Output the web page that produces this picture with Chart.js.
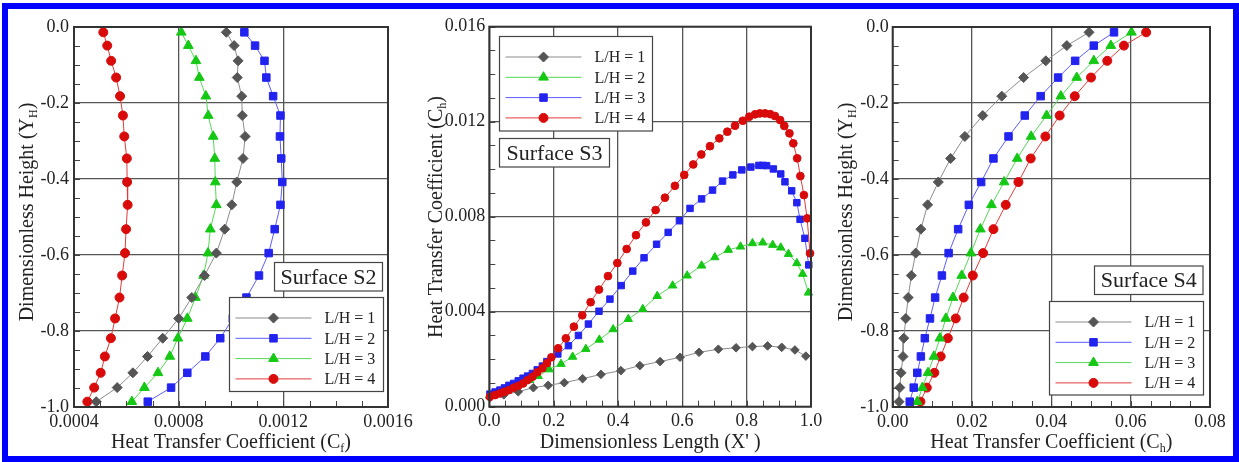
<!DOCTYPE html>
<html>
<head>
<meta charset="utf-8">
<title>Heat transfer coefficient on surfaces S2, S3, S4</title>
<script src="https://cdn.jsdelivr.net/npm/chart.js@4"></script>
<style>
  html, body { margin: 0; padding: 0; background: #fff; }
  #wrap { position: relative; width: 1239px; height: 462px; overflow: hidden; background: #fff; }
  #frame { position: absolute; left: 2px; top: 3px; width: 1237px; height: 459px; box-sizing: border-box; border: 6px solid #0000ff; }
  canvas { position: absolute; top: 0; }
</style>
</head>
<body>
<div id="wrap">
  <div id="frame"></div>
  <canvas id="s2" width="420" height="462" style="left:0px"></canvas>
  <canvas id="s3" width="410" height="462" style="left:420px"></canvas>
  <canvas id="s4" width="409" height="462" style="left:830px"></canvas>
</div>
<script>
// ---- data ----
const lhLabels = ['L/H = 1', 'L/H = 2', 'L/H = 3', 'L/H = 4'];

// Surface S2 and S4 share the same height stations
const heightY = [-0.014, -0.049, -0.089, -0.133, -0.182, -0.233, -0.288, -0.346, -0.408, -0.468,
                 -0.532, -0.595, -0.654, -0.712, -0.767, -0.819, -0.867, -0.910, -0.949, -0.986];

// Surface S2, Cf
const s2CfLH1 = [0.000982, 0.001012, 0.001027, 0.001024, 0.001041, 0.001043, 0.001054, 0.001046, 0.001022, 0.001003,
                 0.000976, 0.000944, 0.000899, 0.000850, 0.000800, 0.000739, 0.000681, 0.000625, 0.000565, 0.000485];
const s2CfLH2 = [0.001051, 0.001092, 0.001128, 0.001135, 0.001161, 0.001189, 0.001187, 0.001192, 0.001196, 0.001189,
                 0.001167, 0.001144, 0.001107, 0.001059, 0.001007, 0.000959, 0.000902, 0.000833, 0.000771, 0.000682];
const s2CfLH3 = [0.000810, 0.000837, 0.000866, 0.000879, 0.000904, 0.000913, 0.000932, 0.000938, 0.000940, 0.000944,
                 0.000921, 0.000912, 0.000895, 0.000864, 0.000833, 0.000797, 0.000766, 0.000721, 0.000669, 0.000621];
const s2CfLH4 = [0.000512, 0.000527, 0.000542, 0.000561, 0.000576, 0.000587, 0.000592, 0.000602, 0.000603, 0.000605,
                 0.000599, 0.000595, 0.000584, 0.000574, 0.000557, 0.000541, 0.000518, 0.000502, 0.000477, 0.000451];

// Surface S3, Ch against X'
const s3XLH1  = [0.002, 0.045, 0.090, 0.137, 0.183, 0.233, 0.290, 0.347, 0.409, 0.468,
                 0.531, 0.593, 0.652, 0.712, 0.767, 0.818, 0.865, 0.909, 0.950, 0.984];
const s3ChLH1 = [0.00038, 0.0005, 0.00063, 0.0008, 0.0009, 0.00101, 0.00118, 0.00136, 0.00152, 0.00173,
                 0.0019, 0.00208, 0.00229, 0.00242, 0.00248, 0.00253, 0.00256, 0.0025, 0.00239, 0.00213];

const s3XLH2  = [0.002, 0.025, 0.05, 0.075, 0.1, 0.125, 0.152, 0.186, 0.223, 0.259,
                 0.300, 0.342, 0.385, 0.432, 0.477, 0.522, 0.570, 0.615, 0.660, 0.701,
                 0.743, 0.781, 0.818, 0.850, 0.881, 0.906, 0.930, 0.956, 0.974, 0.992];
const s3ChLH2 = [0.00045, 0.00058, 0.0007, 0.00082, 0.00096, 0.00112, 0.00129, 0.00157, 0.0018, 0.0021,
                 0.00243, 0.00282, 0.00326, 0.00369, 0.00411, 0.00466, 0.0051, 0.00552, 0.00594, 0.00629,
                 0.0066, 0.00674, 0.00688, 0.00691, 0.00681, 0.0067, 0.00643, 0.00604, 0.00559, 0.0048];

const s3XLH3  = [0.002, 0.018, 0.033, 0.047, 0.061, 0.076, 0.090, 0.105, 0.119, 0.134,
                 0.149, 0.165, 0.179, 0.213, 0.246, 0.277, 0.308, 0.341, 0.375, 0.410,
                 0.446, 0.481, 0.520, 0.556, 0.591, 0.624, 0.660, 0.694, 0.725, 0.757,
                 0.785, 0.813, 0.838, 0.850, 0.862, 0.883, 0.906, 0.919, 0.940, 0.956,
                 0.966, 0.981, 0.993];
const s3ChLH3 = [0.00053, 0.00062, 0.0007, 0.00079, 0.0009, 0.00098, 0.00109, 0.0012, 0.00129, 0.0014,
                 0.00155, 0.00171, 0.0019, 0.00222, 0.00257, 0.003, 0.00348, 0.00402, 0.00453, 0.0051,
                 0.00571, 0.00627, 0.00684, 0.00734, 0.00783, 0.00835, 0.00875, 0.00912, 0.0095, 0.00976,
                 0.00997, 0.01009, 0.01016, 0.01016, 0.01015, 0.01001, 0.0098, 0.00947, 0.00909, 0.00859,
                 0.00789, 0.00709, 0.00597];

const s3XLH4  = [0.002, 0.018, 0.033, 0.047, 0.061, 0.076, 0.090, 0.105, 0.119, 0.134,
                 0.149, 0.165, 0.179, 0.193, 0.214, 0.238, 0.263, 0.289, 0.315, 0.341,
                 0.369, 0.398, 0.427, 0.456, 0.487, 0.517, 0.546, 0.577, 0.606, 0.634,
                 0.659, 0.686, 0.715, 0.740, 0.764, 0.788, 0.808, 0.826, 0.841, 0.857,
                 0.873, 0.888, 0.904, 0.917, 0.933, 0.945, 0.957, 0.967, 0.978, 0.988,
                 0.997];
const s3ChLH4 = [0.00042, 0.00049, 0.00056, 0.00063, 0.0007, 0.0008, 0.00088, 0.00098, 0.00112, 0.00126,
                 0.00145, 0.00162, 0.00183, 0.00208, 0.00246, 0.00288, 0.00337, 0.00385, 0.0044, 0.00493,
                 0.0055, 0.00605, 0.00664, 0.00722, 0.00776, 0.00828, 0.0088, 0.0093, 0.00976, 0.0102,
                 0.01062, 0.01097, 0.0113, 0.01158, 0.01183, 0.01204, 0.01221, 0.01231, 0.01235, 0.01235,
                 0.01232, 0.01224, 0.01207, 0.01182, 0.01151, 0.01109, 0.01046, 0.00971, 0.00891, 0.00793,
                 0.00646];

// Surface S4, Ch
const s4ChLH1 = [0.0495, 0.0439, 0.0386, 0.0330, 0.0275, 0.0227, 0.0182, 0.0146, 0.0115, 0.0088,
                 0.0071, 0.0058, 0.0047, 0.0039, 0.0033, 0.0028, 0.0026, 0.0021, 0.0018, 0.0016];
const s4ChLH2 = [0.0558, 0.0507, 0.0460, 0.0417, 0.0373, 0.0333, 0.0292, 0.0254, 0.0223, 0.0192,
                 0.0165, 0.0141, 0.0124, 0.0107, 0.0094, 0.0081, 0.0071, 0.0062, 0.0053, 0.0043];
const s4ChLH3 = [0.0602, 0.0550, 0.0507, 0.0464, 0.0424, 0.0388, 0.0349, 0.0314, 0.0281, 0.0249,
                 0.0221, 0.0197, 0.0174, 0.0152, 0.0134, 0.0119, 0.0104, 0.0089, 0.0075, 0.0062];
const s4ChLH4 = [0.0639, 0.0583, 0.0541, 0.0500, 0.0459, 0.0421, 0.0385, 0.0348, 0.0317, 0.0285,
                 0.0254, 0.0228, 0.0202, 0.0179, 0.0159, 0.0139, 0.0121, 0.0105, 0.0086, 0.0070];

// tick labels
const heightTicks = [-1.0, -0.8, -0.6, -0.4, -0.2, 0.0];
const s2CfTicks = [0.0004, 0.0008, 0.0012, 0.0016];
const s3XTicks = [0.0, 0.2, 0.4, 0.6, 0.8, 1.0];
const s3ChTicks = [0.000, 0.004, 0.008, 0.012, 0.016];
const s4ChTicks = [0.00, 0.02, 0.04, 0.06, 0.08];

// ---- styling ----
const FONT = '"Liberation Serif", "Times New Roman", Times, serif';
Chart.defaults.font.family = FONT;
Chart.defaults.color = '#222';

const STYLE = {
  gray:  { point: 'rectRot',  fill: '#555555', line: '#8c8c8c', r: 5.0 },
  blue:  { point: 'rect',     fill: '#2323f0', line: '#5c5cff', r: 5.3 },
  green: { point: 'triangle', fill: '#14c814', line: '#55d855', r: 5.6 },
  red:   { point: 'circle',   fill: '#d80a0a', line: '#e23b3b', r: 4.5 }
};

function pts(xs, ys) { return xs.map((x, i) => ({ x: x, y: ys[i] })); }

function series(label, data, st, scale, order) {
  return {
    label: label, data: data, showLine: true, order: order,
    borderColor: st.line, borderWidth: 1,
    pointStyle: st.point, pointRadius: st.r * scale,
    pointBackgroundColor: st.fill, pointBorderColor: st.fill, pointBorderWidth: 1,
    clip: false, _st: st
  };
}

// draw a string made of [normal, sub, normal, ...] pieces centered on (cx, cy)
function drawParts(ctx, parts, cx, cy, size, rotate) {
  const big = size + 'px ' + FONT;
  const small = Math.round(size * 0.62) + 'px ' + FONT;
  const widths = parts.map((p, i) => { ctx.font = i % 2 ? small : big; return ctx.measureText(p).width; });
  const total = widths.reduce((a, b) => a + b, 0);
  ctx.save();
  ctx.translate(cx, cy);
  if (rotate) ctx.rotate(-Math.PI / 2);
  ctx.fillStyle = '#222';
  ctx.textBaseline = 'alphabetic';
  ctx.textAlign = 'left';
  let x = -total / 2;
  parts.forEach((p, i) => {
    ctx.font = i % 2 ? small : big;
    ctx.fillText(p, x, size * 0.34 + (i % 2 ? size * 0.2 : 0));
    x += widths[i];
  });
  ctx.restore();
}

function decor(spec) {
  return {
    id: 'decor',
    afterDraw(chart) {
      const ctx = chart.ctx, a = chart.chartArea;
      const xs = chart.scales.x, ys = chart.scales.y;
      ctx.save();
      // minor ticks on left and bottom axes
      ctx.strokeStyle = '#444';
      ctx.lineWidth = 1;
      ctx.beginPath();
      for (let k = 0; ; k++) {
        const v = spec.yMin + k * spec.yMinor;
        if (v > spec.yMax + 1e-12) break;
        const py = Math.round(ys.getPixelForValue(v)) + 0.5;
        ctx.moveTo(a.left, py); ctx.lineTo(a.left + 6, py);
      }
      for (let k = 0; ; k++) {
        const v = spec.xMin + k * spec.xMinor;
        if (v > spec.xMax + 1e-12) break;
        const px = Math.round(xs.getPixelForValue(v)) + 0.5;
        ctx.moveTo(px, a.bottom); ctx.lineTo(px, a.bottom - 6);
      }
      ctx.stroke();
      // plot frame
      ctx.strokeStyle = '#333';
      ctx.lineWidth = 2;
      ctx.strokeRect(a.left, a.top, a.right - a.left, a.bottom - a.top);

      // axis titles
      drawParts(ctx, spec.xTitle, (a.left + a.right) / 2, spec.xTitleY, 20, false);
      drawParts(ctx, spec.yTitle, spec.yTitleX, spec.yTitleY, 20, true);

      // surface label box
      const sb = spec.surfaceBox;
      ctx.fillStyle = '#fff';
      ctx.fillRect(sb.x, sb.y, sb.w, sb.h);
      ctx.strokeStyle = '#444';
      ctx.lineWidth = 1.2;
      ctx.strokeRect(sb.x, sb.y, sb.w, sb.h);
      ctx.fillStyle = '#222';
      ctx.font = '22px ' + FONT;
      ctx.textAlign = 'center';
      ctx.textBaseline = 'middle';
      ctx.fillText(spec.surfaceText, sb.x + sb.w / 2, sb.y + sb.h / 2 + 1);

      // legend box
      const lb = spec.legendBox;
      ctx.fillStyle = '#fff';
      ctx.fillRect(lb.x, lb.y, lb.w, lb.h);
      ctx.strokeRect(lb.x, lb.y, lb.w, lb.h);
      chart.data.datasets.forEach((ds, i) => {
        const st = ds._st;
        const y = lb.y + 20.5 + i * 20.3;
        ctx.strokeStyle = st.line;
        ctx.lineWidth = 1;
        ctx.beginPath();
        ctx.moveTo(lb.x + 6, y); ctx.lineTo(lb.x + 82, y);
        ctx.stroke();
        ctx.fillStyle = st.fill;
        ctx.strokeStyle = st.fill;
        Chart.helpers.drawPoint(ctx, { pointStyle: st.point, radius: st.r, rotation: 0, borderWidth: 1 }, lb.x + 44, y);
        ctx.fillStyle = '#222';
        ctx.font = '16px ' + FONT;
        ctx.textAlign = 'left';
        ctx.textBaseline = 'middle';
        ctx.fillText(ds.label, lb.x + 95, y + 1);
      });
      ctx.restore();
    }
  };
}

function makePanel(id, spec) {
  const cv = document.getElementById(id);
  const W = cv.width, H = cv.height, A = spec.area;
  return new Chart(cv, {
    type: 'scatter',
    data: { datasets: spec.datasets },
    options: {
      responsive: false,
      animation: false,
      events: [],
      layout: { padding: { left: 0, top: A.top, right: W - A.right, bottom: 0 } },
      plugins: { legend: { display: false }, tooltip: { enabled: false } },
      scales: {
        x: {
          type: 'linear', min: spec.xMin, max: spec.xMax,
          afterBuildTicks: s => { s.ticks = spec.xTicks.map(v => ({ value: v })); },
          afterFit: s => { s.height = H - A.bottom; },
          grid: { color: '#555', lineWidth: 1.3, drawTicks: false },
          border: { display: false },
          ticks: { padding: 4, autoSkip: false, maxRotation: 0, font: { size: 18 }, color: '#222',
                   callback: v => v.toFixed(spec.xDigits) }
        },
        y: {
          type: 'linear', min: spec.yMin, max: spec.yMax,
          afterBuildTicks: s => { s.ticks = spec.yTicks.map(v => ({ value: v })); },
          afterFit: s => { s.width = A.left; },
          grid: { color: '#555', lineWidth: 1.3, drawTicks: false },
          border: { display: false },
          ticks: { padding: spec.yPad, autoSkip: false, font: { size: 18 }, color: '#222',
                   callback: v => v.toFixed(spec.yDigits) }
        }
      }
    },
    plugins: [decor(spec)]
  });
}

// Surface S2
makePanel('s2', {
  area: { left: 74, top: 27, right: 388, bottom: 407 },
  xMin: 0.0004, xMax: 0.0016, xTicks: s2CfTicks, xDigits: 4, xMinor: 0.0001,
  yMin: -1, yMax: 0, yTicks: heightTicks, yDigits: 1, yMinor: 0.05, yPad: 5,
  xTitle: ['Heat Transfer Coefficient (C', 'f', ')'], xTitleY: 441,
  yTitle: ['Dimensionless Height (Y', 'H', ')'], yTitleX: 26, yTitleY: 212,
  surfaceText: 'Surface S2', surfaceBox: { x: 274.5, y: 262.5, w: 108, h: 28.5 },
  legendBox: { x: 229.5, y: 297.5, w: 154, h: 94 },
  datasets: [
    series(lhLabels[0], pts(s2CfLH1, heightY), STYLE.gray, 1, 1),
    series(lhLabels[1], pts(s2CfLH2, heightY), STYLE.blue, 1, 2),
    series(lhLabels[2], pts(s2CfLH3, heightY), STYLE.green, 1, 3),
    series(lhLabels[3], pts(s2CfLH4, heightY), STYLE.red, 1, 4)
  ]
});

// Surface S3
makePanel('s3', {
  area: { left: 69.3, top: 26.7, right: 391, bottom: 406.7 },
  xMin: 0, xMax: 1, xTicks: s3XTicks, xDigits: 1, xMinor: 0.05,
  yMin: 0, yMax: 0.016, yTicks: s3ChTicks, yDigits: 3, yMinor: 0.001, yPad: 4,
  xTitle: ["Dimensionless Length (X' )"], xTitleY: 441,
  yTitle: ['Heat Transfer Coefficient (C', 'h', ')'], yTitleX: 15, yTitleY: 217,
  surfaceText: 'Surface S3', surfaceBox: { x: 79.5, y: 138.5, w: 110, h: 28.5 },
  legendBox: { x: 79.5, y: 36.5, w: 153, h: 94.5 },
  datasets: [
    series(lhLabels[0], pts(s3XLH1, s3ChLH1), STYLE.gray, 0.86, 4),
    series(lhLabels[1], pts(s3XLH2, s3ChLH2), STYLE.green, 0.86, 3),
    series(lhLabels[2], pts(s3XLH3, s3ChLH3), STYLE.blue, 0.86, 2),
    series(lhLabels[3], pts(s3XLH4, s3ChLH4), STYLE.red, 0.86, 1)
  ]
});

// Surface S4
makePanel('s4', {
  area: { left: 62.7, top: 27, right: 380, bottom: 407 },
  xMin: 0, xMax: 0.08, xTicks: s4ChTicks, xDigits: 2, xMinor: 0.005,
  yMin: -1, yMax: 0, yTicks: heightTicks, yDigits: 1, yMinor: 0.05, yPad: 4,
  xTitle: ['Heat Transfer Coefficient (C', 'h', ')'], xTitleY: 441,
  yTitle: ['Dimensionless Height (Y', 'H', ')'], yTitleX: 15, yTitleY: 212,
  surfaceText: 'Surface S4', surfaceBox: { x: 264.5, y: 266, w: 108.5, h: 28.5 },
  legendBox: { x: 219.5, y: 301.5, w: 154, h: 93.5 },
  datasets: [
    series(lhLabels[0], pts(s4ChLH1, heightY), STYLE.gray, 1, 1),
    series(lhLabels[1], pts(s4ChLH2, heightY), STYLE.blue, 1, 2),
    series(lhLabels[2], pts(s4ChLH3, heightY), STYLE.green, 1, 3),
    series(lhLabels[3], pts(s4ChLH4, heightY), STYLE.red, 1, 4)
  ]
});
</script>
</body>
</html>
